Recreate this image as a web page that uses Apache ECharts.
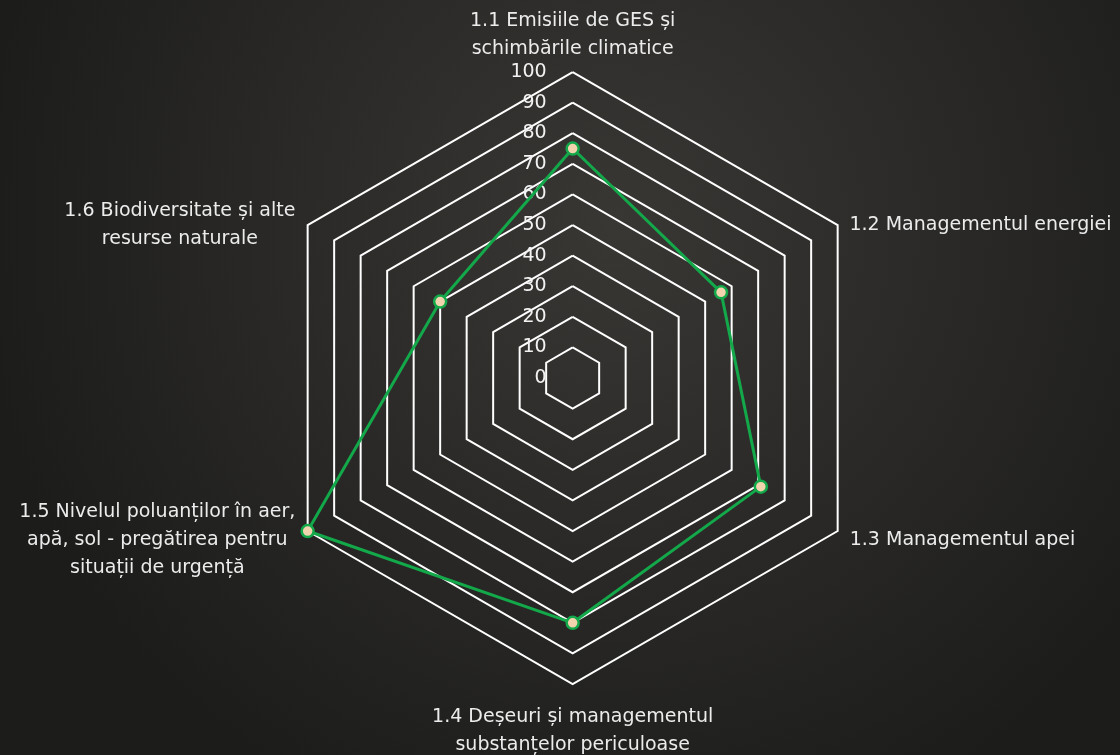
<!DOCTYPE html>
<html>
<head>
<meta charset="utf-8">
<script src="https://cdn.jsdelivr.net/npm/echarts@6/dist/echarts.min.js"></script>
<style>
  html, body { margin: 0; padding: 0; background: #262624; }
  #chart { width: 1120px; height: 755px; }
</style>
</head>
<body>
<div id="chart"></div>
<script>
// categories (radar axes, clockwise from top) and their values
const categories = [
    '1.1 Emisiile de GES și\nschimbările climatice',
    '1.2 Managementul energiei',
    '1.3 Managementul apei',
    '1.4 Deșeuri și managementul\nsubstanțelor periculoase',
    '1.5 Nivelul poluanților în aer,\napă, sol - pregătirea pentru\nsituații de urgență',
    '1.6 Biodiversitate și alte\nresurse naturale'
];
const values = [75, 56, 71, 80, 100, 50];
const axisMin = 0;
const axisMax = 100;
const axisSplits = 10;

const FONT = 'DejaVu Sans';
const NAME_SIZE = 19;

// echarts lays radar axes out counter-clockwise, the picture goes clockwise
const order = [0, 5, 4, 3, 2, 1];

// measure the widest line of each name so lines can be centred inside the block
const ctx = document.createElement('canvas').getContext('2d');
ctx.font = NAME_SIZE + 'px "' + FONT + '"';
const rich = {};
categories.forEach((name, i) => {
    const w = Math.max(...name.split('\n').map(l => ctx.measureText(l).width));
    rich['n' + i] = { width: Math.ceil(w) + 2, align: 'center', color: '#ececec', fontFamily: FONT, fontSize: NAME_SIZE, lineHeight: 28 };
});

const chart = echarts.init(document.getElementById('chart'));

chart.setOption({
    backgroundColor: {
        type: 'radial',
        x: 0.55, y: 0.3, r: 0.85,
        colorStops: [
            { offset: 0, color: '#393734' },
            { offset: 1, color: '#1c1c1b' }
        ]
    },
    animation: false,
    radar: {
        center: ['51.13%', '50.07%'],
        radius: 306,
        startAngle: 90,
        shape: 'polygon',
        splitNumber: axisSplits,
        indicator: order.map((i, k) => ({
            name: categories[i],
            min: axisMin,
            max: axisMax,
            axisLabel: k === 0 ? { show: true } : { show: false }
        })),
        axisName: {
            formatter: function (name) {
                const i = categories.indexOf(name);
                return name.split('\n').map(l => '{n' + i + '|' + l + '}').join('\n');
            },
            rich: rich,
            color: '#ececec',
            fontFamily: FONT,
            fontSize: NAME_SIZE,
            padding: [10, 3, 0, 3]
        },
        nameGap: 9,
        axisLine: { show: false },
        axisTick: { show: false },
        axisLabel: {
            show: false,
            color: '#f2f2f2',
            fontFamily: FONT,
            fontSize: 19,
            margin: 26
        },
        splitLine: { lineStyle: { color: '#ffffff', width: 2 } },
        splitArea: { show: false }
    },
    series: [{
        type: 'radar',
        symbol: 'circle',
        symbolSize: 12,
        lineStyle: { color: '#13a84a', width: 3 },
        itemStyle: { color: '#f1d3ad', borderColor: '#13a84a', borderWidth: 2.5 },
        data: [{ value: order.map(i => values[i]) }]
    }]
});
</script>
</body>
</html>
